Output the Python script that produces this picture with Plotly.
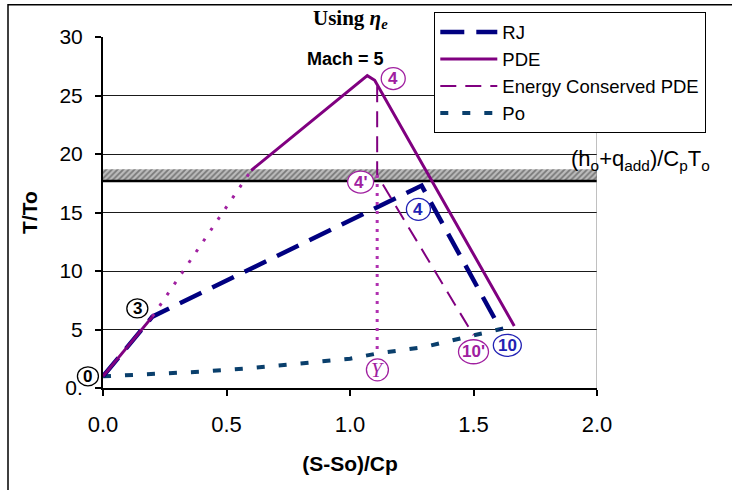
import plotly.graph_objects as go

# axis extents
x_range = [0.0, 2.0]
y_range = [0.0, 30.0]

# cycle paths, T/To versus (S-So)/Cp
rj_x = [0.0, 0.20, 1.29, 1.61]
rj_y = [1.0, 6.1, 17.3, 5.0]

pde_x = [0.0, 0.20, None, 0.60, 1.07, 1.10, 1.665]
pde_y = [1.0, 6.1, None, 18.6, 26.7, 26.3, 5.3]

pde_dot_x = [0.20, 0.60]
pde_dot_y = [6.1, 18.6]

ec_x = [1.11, 1.11, 1.50]
ec_y = [25.8, 18.2, 4.5]

isen_x = [1.11, 1.11]
isen_y = [18.2, 3.0]

po_x = [0.0, 0.2, 0.4, 0.6, 0.8, 1.0, 1.11, 1.3, 1.5, 1.665]
po_y = [1.0, 1.2, 1.4, 1.7, 2.1, 2.5, 2.95, 3.5, 4.5, 5.3]

# (h_o + q_add)/CpTo band
band_lo = 17.7
band_hi = 18.7

# tick labels
y_ticks = [0, 5, 10, 15, 20, 25, 30]
y_tick_text = ["0.", "5", "10", "15", "20", "25", "30"]
x_ticks = [0.0, 0.5, 1.0, 1.5, 2.0]
x_tick_text = ["0.0", "0.5", "1.0", "1.5", "2.0"]

# state-point labels: text, x, y, ring width, ring height, colour
state_labels = [
    ("0", -0.061, 1.0, 21, 19, "#000000"),
    ("3", 0.139, 6.8, 21, 19, "#000000"),
    ("4", 1.175, 26.45, 24, 22, "#a020a0"),
    ("4'", 1.043, 17.6, 26, 22, "#a020a0"),
    ("4", 1.277, 15.27, 24, 22, "#2222b4"),
    ("Y", 1.111, 1.55, 22, 22, "#a020a0"),
    ("10'", 1.50, 3.1, 30, 24, "#a020a0"),
    ("10", 1.637, 3.65, 28, 22, "#2222b4"),
]

NAVY = "#000080"
PURPLE = "#800080"
PO_BLUE = "#0a3f6c"
SANS = "Liberation Sans, Arial, sans-serif"
NARROW = "Liberation Sans Narrow, Arial Narrow, Liberation Sans, Arial, sans-serif"
SERIF = "Liberation Serif, Times New Roman, serif"


def to_px(x):
    return (x - x_range[0]) / (x_range[1] - x_range[0])


def to_py(y):
    return (y - y_range[0]) / (y_range[1] - y_range[0])


fig = go.Figure()

# hatched energy band with its base line
fig.add_trace(go.Scatter(
    x=[x_range[0], x_range[1], x_range[1], x_range[0], x_range[0]],
    y=[band_lo, band_lo, band_hi, band_hi, band_lo],
    mode="lines", fill="toself", fillcolor="#b0b0b0",
    fillpattern=dict(shape="/", fgcolor="#333333", bgcolor="#bcbcbc", size=4, solidity=0.45),
    line=dict(width=0), showlegend=False, hoverinfo="skip",
))
fig.add_trace(go.Scatter(
    x=[x_range[0], x_range[1]], y=[band_lo, band_lo], mode="lines",
    line=dict(color="#000000", width=2.5), showlegend=False, hoverinfo="skip",
))

fig.add_trace(go.Scatter(
    x=po_x, y=po_y, mode="lines", name="Po", legendrank=4, legendgroup="po",
    line=dict(color=PO_BLUE, width=4, dash="8px,14px"),
))
fig.add_trace(go.Scatter(
    x=rj_x, y=rj_y, mode="lines", name="RJ", legendrank=1, legendgroup="rj",
    line=dict(color=NAVY, width=4.5, dash="24px,12px"),
))
fig.add_trace(go.Scatter(
    x=pde_x, y=pde_y, mode="lines", name="PDE", legendrank=2, legendgroup="pde",
    line=dict(color=PURPLE, width=3), connectgaps=False,
))
fig.add_trace(go.Scatter(
    x=pde_dot_x, y=pde_dot_y, mode="lines", showlegend=False, legendgroup="pde",
    line=dict(color="#a020a0", width=3, dash="3px,10px"),
))
fig.add_trace(go.Scatter(
    x=ec_x, y=ec_y, mode="lines", name="Energy Conserved PDE", legendrank=3,
    legendgroup="ec", line=dict(color=PURPLE, width=2, dash="16px,9px"),
))
fig.add_trace(go.Scatter(
    x=isen_x, y=isen_y, mode="lines", showlegend=False, legendgroup="ec",
    line=dict(color="#b030b0", width=3, dash="3px,6px"),
))

shapes = [
    # chart frame
    dict(type="rect", xref="paper", yref="paper",
         x0=(8 - 103) / 494, x1=(734 - 103) / 494,
         y0=(388 - 493) / 353, y1=(388 - 2.5) / 353,
         line=dict(color="#000000", width=1.5), layer="below"),
    # right edge of the plot area
    dict(type="line", xref="x", yref="y", x0=x_range[1], x1=x_range[1],
         y0=y_range[0], y1=y_range[1], line=dict(color="#808080", width=1)),
]
annotations = []
for text, lx, ly, w, h, col in state_labels:
    shapes.append(dict(
        type="circle", xref="paper", yref="paper",
        xsizemode="pixel", ysizemode="pixel",
        xanchor=to_px(lx), yanchor=to_py(ly),
        x0=-w / 2, x1=w / 2, y0=-h / 2, y1=h / 2,
        line=dict(color=col, width=1.3), fillcolor="white", layer="above",
    ))
    if text == "Y":
        font = dict(family=SERIF, size=20, color=col)
        label = "<i>Y</i>"
    else:
        font = dict(family=NARROW, size=17, color=col)
        label = "<b>" + text + "</b>"
    annotations.append(dict(
        xref="paper", yref="paper", x=to_px(lx), y=to_py(ly),
        text=label, showarrow=False, font=font,
        xanchor="center", yanchor="middle",
    ))

annotations += [
    dict(xref="paper", yref="paper", x=(350 - 103) / 494, y=(388 - 17) / 353,
         text="<b>Using <i>η</i><sub><i>e</i></sub></b>", showarrow=False,
         font=dict(family=SERIF, size=21, color="#000000"),
         xanchor="center", yanchor="middle"),
    dict(xref="paper", yref="y", x=(345 - 103) / 494, y=28.1,
         text="<b>Mach = 5</b>", showarrow=False,
         font=dict(family=SANS, size=18, color="#000000"),
         xanchor="center", yanchor="middle"),
    dict(xref="paper", yref="y", x=(569 - 103) / 494, y=19.5,
         text="(h<sub>o</sub>+q<sub>add</sub>)/C<sub>p</sub>T<sub>o</sub>",
         showarrow=False, font=dict(family=SANS, size=22, color="#000000"),
         xanchor="left", yanchor="middle"),
]

fig.update_layout(
    width=732, height=490,
    margin=dict(l=103, r=135, t=35, b=102),
    paper_bgcolor="white", plot_bgcolor="white",
    font=dict(family=SANS, color="#000000"),
    shapes=shapes, annotations=annotations,
    legend=dict(
        x=(434 - 103) / 494, y=(388 - 10) / 353, xanchor="left", yanchor="top",
        bgcolor="white", bordercolor="#000000", borderwidth=1.3,
        font=dict(family=SANS, size=18.5, color="#000000"),
        itemwidth=57, traceorder="normal",
    ),
    xaxis=dict(
        range=x_range, tickvals=x_ticks, ticktext=x_tick_text,
        showgrid=False, zeroline=False, showline=True, linecolor="#000000",
        linewidth=2, ticks="outside", ticklen=6, tickwidth=1.5, tickcolor="#000000",
        tickfont=dict(family=SANS, size=22), ticklabelstandoff=10,
        title=dict(text="<b>(S-So)/Cp</b>", font=dict(family=SANS, size=21), standoff=20),
    ),
    yaxis=dict(
        range=y_range, tickvals=y_ticks, ticktext=y_tick_text,
        showgrid=True, gridcolor="#1a1a1a", gridwidth=1.3, zeroline=False,
        showline=True, linecolor="#000000", linewidth=2,
        ticks="outside", ticklen=6, tickwidth=1.5, tickcolor="#000000",
        tickfont=dict(family=SANS, size=21), ticklabelstandoff=8,
        title=dict(text="<b>T/To</b>", font=dict(family=SANS, size=21), standoff=16),
    ),
)

fig.write_html("out.html")
